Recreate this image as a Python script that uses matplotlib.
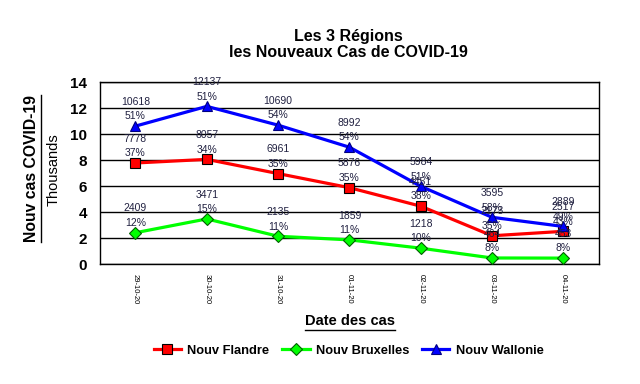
import numpy as np
import matplotlib.pyplot as plt
from matplotlib.lines import Line2D

plt.rcParams['font.family'] = ['Liberation Sans', 'DejaVu Sans']

dates = ["29-10-20", "30-10-20", "31-10-20", "01-11-20", "02-11-20", "03-11-20", "04-11-20"]
flandre = [7778, 8057, 6961, 5876, 4451, 2173, 2517]
bruxelles = [2409, 3471, 2135, 1859, 1218, 464, 453]
wallonie = [10618, 12137, 10690, 8992, 5984, 3595, 2889]
pct_flandre = [37, 34, 35, 35, 38, 35, 43]
pct_bruxelles = [12, 15, 11, 11, 10, 8, 8]
pct_wallonie = [51, 51, 54, 54, 51, 58, 49]

fig = plt.figure(figsize=(6.4, 3.84), dpi=100)
ax = fig.add_axes([0.156, 0.3125, 0.78, 0.4735])

x = np.arange(len(dates))
series = [
    ("Nouv Flandre", flandre, pct_flandre, "#ff0000", "s", "black"),
    ("Nouv Bruxelles", bruxelles, pct_bruxelles, "#00ff00", "D", "#006000"),
    ("Nouv Wallonie", wallonie, pct_wallonie, "#0000ff", "^", "#000080"),
]
for name, vals, pcts, col, mk, ec in series:
    y = np.array(vals) / 1000
    ms = 6 if mk == "D" else 7.5
    ax.plot(x, y, color=col, lw=2.3, marker=mk, ms=ms, mfc=col, mec=ec, mew=0.8,
            label=name, zorder=3)
    for xi, yi, v, p in zip(x, y, vals, pcts):
        ax.annotate(f"{p}%", (xi, yi), xytext=(0, 7), textcoords="offset points",
                    ha="center", va="center", fontsize=7.5, color="#202040", zorder=4)
        ax.annotate(str(v), (xi, yi), xytext=(0, 17.5), textcoords="offset points",
                    ha="center", va="center", fontsize=7.5, color="#202040", zorder=4)

ax.set_xlim(-0.5, len(dates) - 0.5)
ax.set_ylim(0, 14)
ax.set_yticks(range(0, 15, 2))
ax.yaxis.grid(True, color="black", lw=1)
ax.set_axisbelow(True)
ax.set_xticks(x)
ax.set_xticklabels(dates, rotation=270, fontsize=5.5)
ax.tick_params(axis="x", length=0, pad=7)
ax.tick_params(axis="y", length=0, pad=9, labelsize=11)
for lab in ax.get_yticklabels():
    lab.set_fontweight("bold")
for s in ax.spines.values():
    s.set_color("black")
    s.set_linewidth(1)

fig.text(0.544, 0.884, "Les 3 Régions\nles Nouveaux Cas de COVID-19", ha="center",
         va="center", fontsize=11.5, fontweight="bold", linespacing=1.15)
t_x = fig.text(0.547, 0.164, "Date des cas", ha="center", va="center",
               fontsize=10.5, fontweight="bold")
t_y = fig.text(0.050, 0.562, "Nouv cas COVID-19", ha="center", va="center",
               fontsize=11.3, fontweight="bold", rotation=90)
fig.text(0.084, 0.558, "Thousands", ha="center", va="center", fontsize=10.5,
         rotation=90)

leg = fig.legend(loc="center", bbox_to_anchor=(0.545, 0.086), ncol=3, frameon=False,
                 fontsize=9.3, handlelength=2.1, columnspacing=1.0, handletextpad=0.5,
                 markerscale=1.05)
for t in leg.get_texts():
    t.set_fontweight("bold")

# underline the axis titles
fig.canvas.draw()
r = fig.canvas.get_renderer()
inv = fig.transFigure.inverted()
bb = t_x.get_window_extent(r).transformed(inv)
fig.add_artist(Line2D([bb.x0, bb.x1], [bb.y0 - 0.004, bb.y0 - 0.004], color="black", lw=1))
bb = t_y.get_window_extent(r).transformed(inv)
fig.add_artist(Line2D([bb.x1 + 0.002, bb.x1 + 0.002], [bb.y0, bb.y1], color="black", lw=1))

fig.savefig("out.png", dpi=100, facecolor="white")
